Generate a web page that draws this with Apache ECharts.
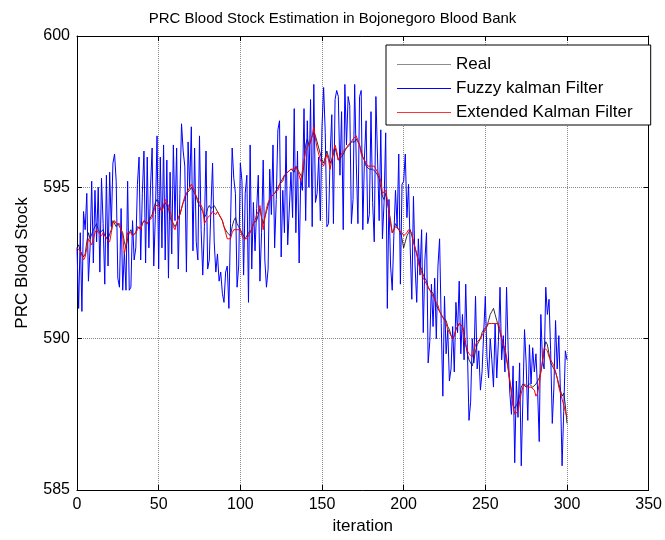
<!DOCTYPE html>
<html><head><meta charset="utf-8">
<script src="https://cdn.jsdelivr.net/npm/echarts@6/dist/echarts.min.js"></script>
<style>html,body{margin:0;padding:0;background:#fff}#c{width:665px;height:540px}</style>
</head><body><div id="c"></div>
<script>
const chartTitle = 'PRC Blood Stock Estimation in Bojonegoro Blood Bank';
const xName = 'iteration';
const yName = 'PRC Blood Stock';
const seriesNames = ['Real', 'Fuzzy kalman Filter', 'Extended Kalman Filter'];

const realStock = [
593.0,593.1,592.9,592.9,592.7,592.8,593.2,593.5,593.3,593.3,
593.6,593.7,593.8,593.6,593.5,593.5,593.6,593.4,593.4,593.3,
593.3,593.6,593.9,593.9,593.7,593.8,593.8,593.6,593.5,593.2,
593.0,593.3,593.5,593.6,593.4,593.4,593.5,593.7,593.7,593.6,
593.8,593.9,593.9,593.8,593.9,593.9,594.1,594.3,594.5,594.6,
594.5,594.3,594.2,594.4,594.5,594.5,594.3,594.0,594.0,593.8,
593.7,593.8,594.0,594.1,594.3,594.5,594.6,594.8,594.8,594.9,
595.0,595.0,594.8,594.7,594.5,594.4,594.4,594.2,594.0,594.1,
594.3,594.4,594.3,594.3,594.4,594.3,594.2,594.1,594.0,593.9,
593.7,593.6,593.5,593.5,593.4,593.7,593.9,594.0,593.8,593.7,
593.6,593.5,593.4,593.3,593.4,593.5,593.5,593.6,593.8,593.8,
593.9,594.1,594.3,594.0,593.8,594.0,594.2,594.4,594.6,594.7,
594.7,594.8,594.8,595.0,595.1,595.1,595.3,595.4,595.4,595.5,
595.5,595.6,595.6,595.5,595.7,595.7,595.5,595.4,595.3,595.8,
596.4,596.6,596.4,596.5,596.7,596.8,596.7,596.5,596.3,596.1,
595.9,595.8,596.0,596.2,596.0,595.8,595.9,596.1,596.3,596.1,
595.9,595.9,596.0,596.1,596.2,596.3,596.3,596.4,596.5,596.5,
596.5,596.6,596.6,596.4,596.2,596.0,595.9,595.7,595.7,595.6,
595.6,595.6,595.6,595.5,595.4,595.3,595.0,594.7,594.6,594.8,
594.5,594.2,593.9,593.5,593.6,593.8,593.7,593.6,593.5,593.3,
593.0,593.2,593.4,593.5,593.6,593.4,593.2,593.0,592.8,592.6,
592.4,592.3,592.1,592.0,591.9,591.7,591.6,591.6,591.5,591.3,
591.1,591.0,591.0,590.8,590.7,590.7,590.6,590.4,590.3,590.1,
590.0,590.1,590.3,590.4,590.5,590.5,590.4,590.2,589.8,589.5,
589.3,589.2,589.1,589.3,589.6,589.8,589.9,590.0,590.2,590.3,
590.3,590.4,590.6,590.8,590.9,591.0,590.8,590.6,590.4,590.2,
590.0,589.8,589.6,589.3,589.0,588.6,588.2,587.8,587.7,587.8,
587.9,588.1,588.4,588.5,588.5,588.4,588.4,588.5,588.5,588.4,
588.4,588.5,588.5,588.7,588.9,589.2,589.6,589.9,589.8,589.5,
589.2,589.1,589.0,588.9,588.7,588.5,588.3,588.1,588.2,587.8,
587.2
];

const fuzzyKalman = [
593.0,591.0,593.5,590.9,594.2,593.6,594.8,591.9,593.0,595.2,
592.5,594.9,593.2,595.0,592.2,595.3,593.8,591.8,595.4,592.4,
595.5,593.7,595.8,596.1,595.2,592.0,591.7,594.3,591.6,592.9,
591.6,595.2,591.6,591.7,593.9,592.6,593.0,595.1,596.0,592.6,
594.8,596.2,592.5,596.0,593.0,595.0,596.3,592.4,594.1,596.7,
592.3,596.0,593.0,596.4,592.6,595.9,592.0,595.5,592.8,596.4,
593.9,596.3,592.3,594.8,597.1,596.2,595.7,592.2,596.5,595.0,
597.0,592.9,596.3,593.2,592.6,596.7,593.6,592.1,593.7,596.2,
592.3,592.6,594.3,595.8,593.2,592.2,592.8,591.9,592.2,591.5,
591.2,592.2,592.4,591.0,593.8,596.3,595.3,594.8,591.7,592.4,
595.8,595.2,592.1,594.8,595.4,591.2,596.4,592.3,594.5,592.9,
594.3,595.4,591.9,593.5,595.9,592.6,591.7,592.3,595.6,594.1,
596.4,593.0,594.6,596.9,597.2,592.7,594.9,593.5,596.7,593.1,
593.1,595.5,594.0,597.6,593.5,596.2,592.5,595.3,594.9,597.6,
593.9,597.2,595.0,597.9,593.7,598.4,594.5,594.8,596.0,593.9,
597.0,598.3,596.8,593.7,593.8,596.1,597.4,593.8,597.9,598.2,
598.0,595.4,597.5,593.6,598.4,596.4,598.0,597.7,593.8,594.6,
598.4,595.8,593.8,598.0,598.2,593.6,596.0,597.2,593.8,594.1,
597.5,594.5,593.2,598.0,596.0,593.9,596.9,593.3,594.5,596.8,
591.0,594.6,592.4,591.6,593.4,594.9,593.7,596.1,591.8,595.1,
595.2,596.1,594.0,595.1,593.0,591.3,594.7,592.4,591.2,593.3,
592.1,593.6,590.2,592.6,593.5,589.2,589.9,591.8,590.4,592.0,
590.0,592.4,593.3,590.5,588.1,591.4,589.5,590.3,588.6,589.0,
590.4,588.9,591.2,590.2,591.9,589.5,590.8,589.3,591.8,589.7,
587.3,587.9,590.0,589.2,591.4,589.0,589.6,588.3,588.9,590.2,
591.4,589.4,588.7,590.0,589.3,588.4,590.5,588.7,589.9,591.7,
589.3,590.1,588.9,591.7,589.6,588.2,587.5,589.1,585.9,588.6,
587.4,589.2,585.8,588.0,590.3,589.2,587.3,589.8,588.5,589.7,
588.9,589.5,588.3,586.6,590.8,589.3,589.0,591.7,590.8,591.3,
589.6,587.2,588.4,590.6,589.0,590.1,588.2,585.8,587.6,589.6,
589.3
];

const extendedKalman = [
593.0,593.0,592.9,592.9,592.6,592.7,593.0,593.3,593.2,593.1,
593.3,593.5,593.6,593.5,593.5,593.4,593.5,593.4,593.3,593.3,
593.2,593.5,593.8,593.9,593.8,593.8,593.8,593.8,593.4,592.8,
593.1,593.5,593.5,593.5,593.4,593.4,593.5,593.6,593.7,593.6,
593.8,593.9,593.9,593.8,593.9,593.9,594.0,594.2,594.4,594.4,
594.4,594.3,594.2,594.4,594.6,594.6,594.4,594.2,594.0,593.7,
593.6,593.8,594.0,594.1,594.3,594.5,594.7,594.8,594.9,594.9,
595.1,595.1,594.9,594.7,594.6,594.5,594.5,594.3,593.8,593.9,
594.0,594.0,594.1,594.2,594.2,594.1,594.2,594.1,594.0,593.9,
593.7,593.5,593.3,593.3,593.3,593.5,593.6,593.6,593.6,593.6,
593.6,593.4,593.3,593.3,593.3,593.4,593.4,593.6,593.8,593.9,
594.1,594.2,594.4,594.0,593.6,594.0,594.3,594.5,594.6,594.7,
594.7,594.8,594.8,594.9,595.1,595.1,595.2,595.4,595.4,595.5,
595.5,595.6,595.6,595.6,595.7,595.7,595.4,595.2,595.2,595.9,
596.2,596.3,596.4,596.5,596.7,597.0,596.6,596.3,596.1,595.9,
595.8,595.7,595.9,596.1,595.9,595.6,595.9,596.2,596.4,596.2,
595.9,595.9,596.1,596.2,596.2,596.3,596.4,596.4,596.5,596.6,
596.6,596.7,596.7,596.4,596.1,596.0,595.9,595.8,595.7,595.7,
595.7,595.7,595.7,595.6,595.5,595.4,595.2,594.8,594.8,594.9,
594.6,594.2,593.8,593.5,593.6,593.7,593.7,593.6,593.6,593.5,
593.4,593.4,593.5,593.6,593.6,593.5,593.2,593.0,592.8,592.5,
592.3,592.2,592.0,591.9,591.8,591.7,591.6,591.5,591.4,591.3,
591.2,591.1,590.9,590.8,590.7,590.6,590.5,590.3,590.2,590.1,
590.0,590.1,590.3,590.4,590.5,590.5,590.4,590.1,589.8,589.6,
589.5,589.5,589.4,589.6,589.8,589.9,589.9,590.0,590.1,590.2,
590.3,590.4,590.5,590.5,590.5,590.5,590.5,590.5,590.5,590.3,
590.0,589.8,589.7,589.4,589.0,588.6,588.3,587.8,587.5,587.5,
587.6,587.9,588.2,588.4,588.5,588.5,588.4,588.4,588.4,588.4,
588.3,588.1,588.2,588.5,588.9,589.3,589.7,589.7,589.6,589.4,
589.3,589.2,589.1,588.9,588.7,588.4,588.2,588.0,587.8,587.6,
587.4
];

const FONT = 'Liberation Sans, Arial, Helvetica, sans-serif';
const toPairs = arr => arr.map((v, i) => [i, v]);

const chart = echarts.init(document.getElementById('c'), null, {renderer: 'canvas'});

const gridLine = {show: true, lineStyle: {color: '#8a8a8a', type: 'dotted', width: 1}};
const axisBlack = {show: true, onZero: false, lineStyle: {color: '#000', width: 1}};
const tickIn = {show: true, inside: true, length: 5, lineStyle: {color: '#000', width: 1}};

chart.setOption({
  animation: false,
  backgroundColor: '#fff',
  title: {
    text: chartTitle, left: 'center', top: 6,
    textStyle: {fontSize: 15, fontWeight: 'normal', color: '#000', fontFamily: FONT}
  },
  grid: {left: 77, top: 36, width: 577, height: 454, containLabel: false},
  legend: {
    orient: 'vertical', left: 386, top: 45,
    padding: [11, 18, 4, 11], itemGap: 7, itemWidth: 54, itemHeight: 1, icon: 'rect',
    backgroundColor: '#fff', borderColor: '#000', borderWidth: 1, borderRadius: 0,
    textStyle: {fontSize: 17, color: '#000', fontFamily: FONT, lineHeight: 17},
    data: [
      {name: seriesNames[0], itemStyle: {color: '#8c8c8c'}},
      {name: seriesNames[1], itemStyle: {color: '#0000ff'}},
      {name: seriesNames[2], itemStyle: {color: '#ff3333'}}
    ]
  },
  xAxis: [
    {type: 'value', min: 0, max: 350, interval: 50, position: 'bottom',
     axisLine: axisBlack, axisTick: tickIn,
     axisLabel: {color: '#000', fontSize: 16, margin: 7, fontFamily: FONT},
     splitLine: gridLine,
     name: xName, nameLocation: 'middle', nameGap: 27,
     nameTextStyle: {fontSize: 17, color: '#000', fontFamily: FONT}},
    {type: 'value', min: 0, max: 350, interval: 50, position: 'top',
     axisLine: axisBlack, axisTick: tickIn, axisLabel: {show: false}, splitLine: {show: false}}
  ],
  yAxis: [
    {type: 'value', min: 585, max: 600, interval: 5, position: 'left',
     axisLine: axisBlack, axisTick: tickIn,
     axisLabel: {color: '#000', fontSize: 16, margin: 7, fontFamily: FONT},
     splitLine: gridLine,
     name: yName, nameLocation: 'middle', nameGap: 46, nameRotate: 90,
     nameTextStyle: {fontSize: 17, color: '#000', fontFamily: FONT}},
    {type: 'value', min: 585, max: 600, interval: 5, position: 'right',
     axisLine: axisBlack, axisTick: tickIn, axisLabel: {show: false}, splitLine: {show: false}}
  ],
  series: [
    {name: seriesNames[0], type: 'line', data: toPairs(realStock), symbol: 'none', showSymbol: false,
     color: '#000', lineStyle: {color: '#000', width: 0.8}, z: 2},
    {name: seriesNames[1], type: 'line', data: toPairs(fuzzyKalman), symbol: 'none', showSymbol: false,
     color: '#0000ff', lineStyle: {color: '#0000ff', width: 1}, z: 2},
    {name: seriesNames[2], type: 'line', data: toPairs(extendedKalman), symbol: 'none', showSymbol: false,
     color: '#ff0000', lineStyle: {color: '#ff0000', width: 1}, z: 2}
  ]
});
</script>
</body></html>
